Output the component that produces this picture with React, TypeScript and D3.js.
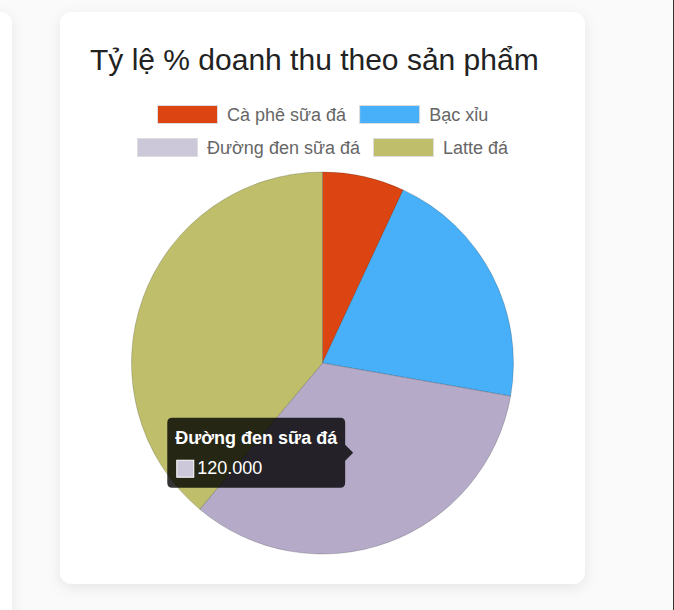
import React from "react";
import * as d3 from "d3";

// chart data
const labels = ["Cà phê sữa đá", "Bạc xỉu", "Đường đen sữa đá", "Latte đá"];
const revenue = [25000, 75000, 120000, 140000];
const colors = ["#dc4412", "#48b0f8", "#ccc8d9", "#bfbf6b"];
const hoverColors = ["#c23a0c", "#2f9ee8", "#b5abc8", "#a9a955"];
const activeIndex = 2;
const title = "Tỷ lệ % doanh thu theo sản phẩm";

const W = 674;
const H = 610;
const FONT = "'Liberation Sans', Arial, Helvetica, sans-serif";

export default function App() {
    const ref = React.useRef<SVGSVGElement>(null);

    React.useEffect(() => {
        drawChart();
    }, []);

    function drawChart() {
        const svg = d3.select(ref.current);
        svg.selectAll("*").remove();

        const defs = svg.append("defs");
        const shadow = defs
            .append("filter")
            .attr("id", "cardShadow")
            .attr("x", "-20%")
            .attr("y", "-20%")
            .attr("width", "140%")
            .attr("height", "140%");
        shadow
            .append("feDropShadow")
            .attr("dx", 0)
            .attr("dy", 4)
            .attr("stdDeviation", 7)
            .attr("flood-color", "#000")
            .attr("flood-opacity", 0.08);

        // page background
        svg.append("rect").attr("width", W).attr("height", H).attr("fill", "#fafafa");

        // left card edge (neighbour card)
        svg.append("rect")
            .attr("x", -40)
            .attr("y", 12)
            .attr("width", 52)
            .attr("height", H + 40)
            .attr("rx", 12)
            .attr("fill", "#fff")
            .attr("filter", "url(#cardShadow)");

        // main card
        const card = { x: 60, y: 12, w: 525, h: 572 };
        svg.append("rect")
            .attr("x", card.x)
            .attr("y", card.y)
            .attr("width", card.w)
            .attr("height", card.h)
            .attr("rx", 12)
            .attr("fill", "#fff")
            .attr("filter", "url(#cardShadow)");

        // right border line
        svg.append("line")
            .attr("x1", 673.5)
            .attr("x2", 673.5)
            .attr("y1", 0)
            .attr("y2", H)
            .attr("stroke", "#333")
            .attr("stroke-width", 1);

        // title
        svg.append("text")
            .attr("x", 90)
            .attr("y", 70)
            .attr("font-family", FONT)
            .attr("font-size", 30)
            .attr("fill", "#222")
            .text(title);

        const cx = (card.x + card.x + card.w) / 2;

        // legend
        const boxW = 60;
        const boxH = 18;
        const fontSize = 18;
        const gap = 10;
        const itemPad = 13;
        const legendG = svg.append("g").attr("font-family", FONT).attr("font-size", fontSize);
        const items = labels.map((label, i) => {
            const t = legendG
                .append("text")
                .attr("fill", "#666")
                .attr("dominant-baseline", "central")
                .text(label);
            const tw = (t.node() as SVGTextElement).getComputedTextLength();
            return { label, i, t, width: boxW + gap + tw };
        });
        const maxRow = 440;
        const rows: typeof items[] = [];
        let cur: typeof items = [];
        let curW = 0;
        items.forEach((it) => {
            const add = (cur.length ? itemPad : 0) + it.width;
            if (curW + add > maxRow && cur.length) {
                rows.push(cur);
                cur = [];
                curW = 0;
            }
            curW += (cur.length ? itemPad : 0) + it.width;
            cur.push(it);
        });
        rows.push(cur);
        rows.forEach((row, r) => {
            const total = d3.sum(row, (d) => d.width) + itemPad * (row.length - 1);
            let x = Math.round(cx - total / 2);
            const yc = 114 + r * 33;
            row.forEach((it) => {
                legendG
                    .append("rect")
                    .attr("x", x + 0.5)
                    .attr("y", yc - boxH / 2 + 0.5)
                    .attr("width", boxW)
                    .attr("height", boxH)
                    .attr("fill", colors[it.i])
                    .attr("stroke", "#ddd")
                    .attr("stroke-width", 1);
                it.t.attr("x", x + boxW + gap).attr("y", yc + 1);
                x += it.width + itemPad;
            });
        });

        // pie
        const radius = 191;
        const pieCenter = { x: cx, y: 363 };
        const pie = d3
            .pie<number>()
            .sort(null)
            .value((d) => d);
        const arcs = pie(revenue);
        const arc = d3.arc<d3.PieArcDatum<number>>().innerRadius(0).outerRadius(radius);

        const pieG = svg
            .append("g")
            .attr("transform", `translate(${pieCenter.x},${pieCenter.y})`);
        pieG.selectAll("path")
            .data(arcs)
            .enter()
            .append("path")
            .attr("d", arc)
            .attr("fill", (d, i) => (i === activeIndex ? hoverColors[i] : colors[i]))
            .attr("stroke", "rgba(0,0,0,0.18)")
            .attr("stroke-width", 1);

        // tooltip for the active slice
        const centroid = arc.centroid(arcs[activeIndex]);
        const tipX = pieCenter.x + centroid[0] - 2;
        const tipY = pieCenter.y + centroid[1];
        const fmt = (v: number) => d3.format(",")(v).replace(/,/g, ".");

        const tip = svg.append("g").attr("font-family", FONT).attr("font-size", 18);
        const tTitle = tip
            .append("text")
            .attr("fill", "#fff")
            .attr("font-weight", "bold")
            .text(labels[activeIndex]);
        const tBody = tip.append("text").attr("fill", "#fff").text(fmt(revenue[activeIndex]));
        const titleW = (tTitle.node() as SVGTextElement).getComputedTextLength();
        const bodyW = 22 + (tBody.node() as SVGTextElement).getComputedTextLength();
        const tipW = Math.max(titleW, bodyW) + 16;
        const tipH = 70;
        const caret = 8;
        const left = tipX - caret - tipW;
        const top = tipY - 35;

        tip.insert("path", "text")
            .attr(
                "d",
                `M${left + 5},${top} H${left + tipW - 5} Q${left + tipW},${top} ${left + tipW},${top + 5}` +
                    ` V${tipY - caret} L${tipX},${tipY} L${left + tipW},${tipY + caret}` +
                    ` V${top + tipH - 5} Q${left + tipW},${top + tipH} ${left + tipW - 5},${top + tipH}` +
                    ` H${left + 5} Q${left},${top + tipH} ${left},${top + tipH - 5}` +
                    ` V${top + 5} Q${left},${top} ${left + 5},${top} Z`
            )
            .attr("fill", "rgba(0,0,0,0.8)");
        tTitle.attr("x", left + 8).attr("y", top + 26);
        tip.append("rect")
            .attr("x", left + 9.5)
            .attr("y", top + 42.5)
            .attr("width", 17)
            .attr("height", 17)
            .attr("fill", colors[activeIndex])
            .attr("stroke", "#fff")
            .attr("stroke-width", 1);
        tBody.attr("x", left + 30).attr("y", top + 56);
    }

    return (
        <div style={{ position: "fixed", left: 0, top: 0, width: W, height: H }}>
            <svg ref={ref} width={W} height={H} style={{ display: "block" }} />
        </div>
    );
}
